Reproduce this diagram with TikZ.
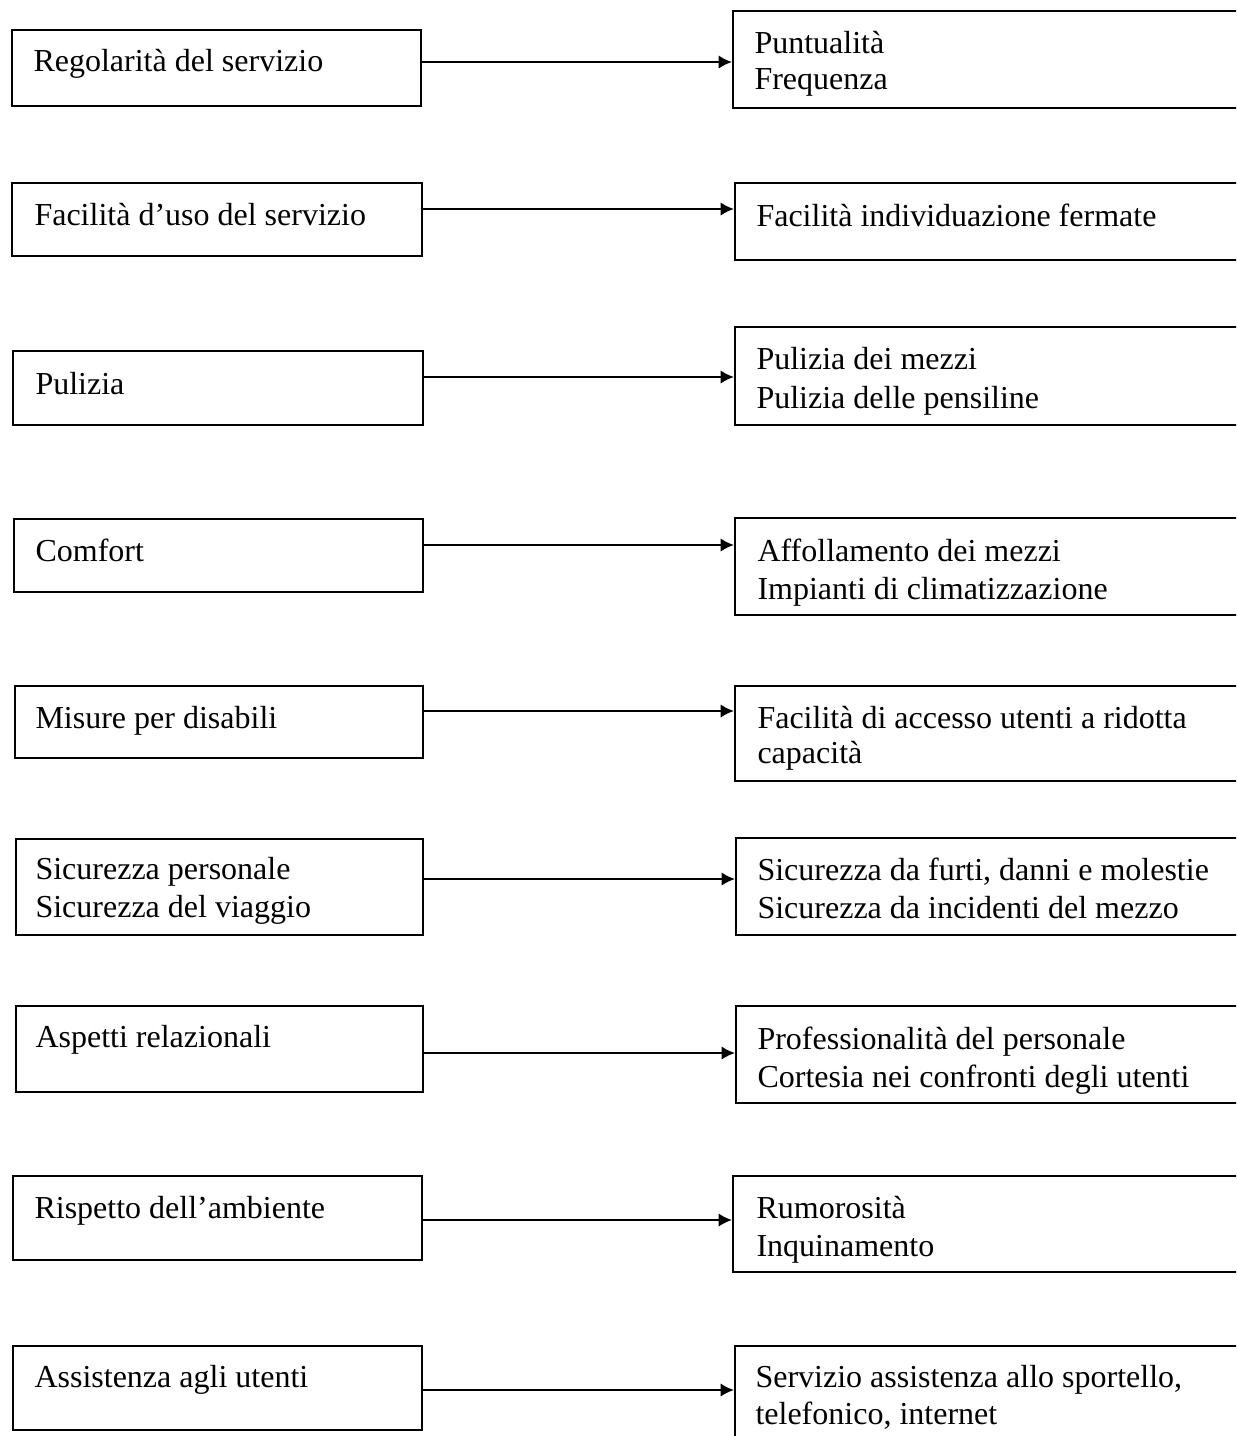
\documentclass[tikz,border=0pt]{standalone}
\usepackage{fontspec}
\setmainfont{Liberation Serif}
\usetikzlibrary{arrows.meta}
\newcommand\bx[5]{\node[boxsty, minimum width={(#4-#2)*0.375pt}, minimum height={(#5-#3)*0.375pt}] (#1) at ({(#2+#4)/2},{(#3+#5)/2}) {};}
\newcommand\tx[4]{\node[lbl] (#1) at (#2,#3+2) {#4};}
\begin{document}
\begin{tikzpicture}[x=0.375pt,y=-0.375pt,
  boxsty/.style={draw, line width=0.75pt, rectangle, inner sep=0pt, anchor=center},
  lbl/.style={anchor=base west, inner sep=0pt, font=\fontsize{12}{13.8}\selectfont},
  conn/.style={line width=0.75pt, -{Latex[length=5pt,width=5pt]}}]
\useasboundingbox (0,0) rectangle (1236,1436);
\clip (0,0) rectangle (1236,1436);
% left boxes
\bx{L1}{12}{30}{421}{106}
\bx{L2}{12}{183}{422}{256}
\bx{L3}{13}{351}{423}{425}
\bx{L4}{14}{519}{423}{592}
\bx{L5}{15}{686}{423}{758}
\bx{L6}{16}{839}{423}{935}
\bx{L7}{16}{1006}{423}{1092}
\bx{L8}{13}{1176}{422}{1260}
\bx{L9}{13}{1346}{422}{1430}
% right boxes
\bx{R1}{733}{11}{1250}{108}
\bx{R2}{735}{183}{1250}{260}
\bx{R3}{735}{327}{1250}{425}
\bx{R4}{735}{518}{1250}{615}
\bx{R5}{735}{686}{1250}{781}
\bx{R6}{736}{838}{1250}{935}
\bx{R7}{736}{1006}{1250}{1103}
\bx{R8}{733}{1176}{1250}{1272}
\bx{R9}{735}{1346}{1250}{1445}
% left texts
\tx{a1}{33}{69}{Regolarità del servizio}
\tx{a2}{34}{223}{Facilità d’uso del servizio}
\tx{a3}{35}{392}{Pulizia}
\tx{a4}{35}{559}{Comfort}
\tx{a5}{35}{726}{Misure per disabili}
\tx{a6}{35}{877}{Sicurezza personale}
\tx{a6b}{35}{915}{Sicurezza del viaggio}
\tx{a7}{35}{1045}{Aspetti relazionali}
\tx{a8}{34}{1216}{Rispetto dell’ambiente}
\tx{a9}{34}{1385}{Assistenza agli utenti}
% right texts
\tx{b1}{754}{51}{Puntualità}
\tx{b1b}{754}{87}{Frequenza}
\tx{b2}{756}{224}{Facilità individuazione fermate}
\tx{b3}{756}{367}{Pulizia dei mezzi}
\tx{b3b}{756}{406}{Pulizia delle pensiline}
\tx{b4}{757}{559}{Affollamento dei mezzi}
\tx{b4b}{757}{597}{Impianti di climatizzazione}
\tx{b5}{757}{726}{Facilità di accesso utenti a ridotta}
\tx{b5b}{757}{761}{capacità}
\tx{b6}{757}{878}{Sicurezza da furti, danni e molestie}
\tx{b6b}{757}{916}{Sicurezza da incidenti del mezzo}
\tx{b7}{757}{1047}{Professionalità del personale}
\tx{b7b}{757}{1085}{Cortesia nei confronti degli utenti}
\tx{b8}{756}{1216}{Rumorosità}
\tx{b8b}{756}{1254}{Inquinamento}
\tx{b9}{755}{1385}{Servizio assistenza allo sportello,}
\tx{b9b}{755}{1422}{telefonico, internet}
% connectors
\draw[conn] (L1.east |- 0,62) -- (R1.west |- 0,62);
\draw[conn] (L2.east |- 0,209) -- (R2.west |- 0,209);
\draw[conn] (L3.east |- 0,377) -- (R3.west |- 0,377);
\draw[conn] (L4.east |- 0,545) -- (R4.west |- 0,545);
\draw[conn] (L5.east |- 0,711) -- (R5.west |- 0,711);
\draw[conn] (L6.east |- 0,879) -- (R6.west |- 0,879);
\draw[conn] (L7.east |- 0,1053) -- (R7.west |- 0,1053);
\draw[conn] (L8.east |- 0,1220) -- (R8.west |- 0,1220);
\draw[conn] (L9.east |- 0,1390) -- (R9.west |- 0,1390);
\end{tikzpicture}
\end{document}
